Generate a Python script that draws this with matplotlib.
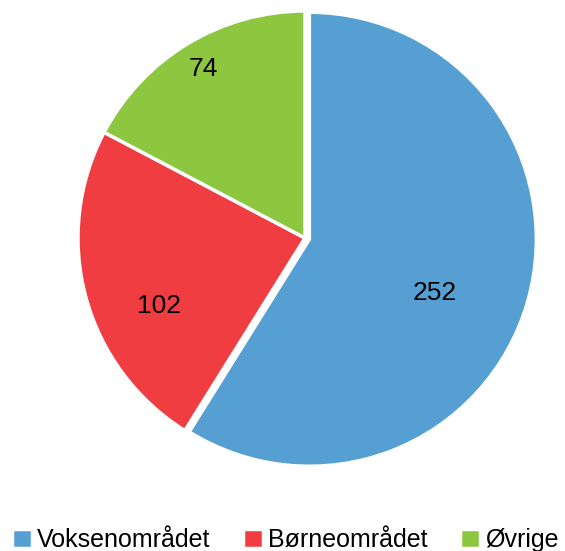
import numpy as np
import matplotlib.pyplot as plt

plt.rcParams["font.family"] = ["Liberation Sans", "DejaVu Sans"]

# Data
kategorier = ["Voksenområdet", "Børneområdet", "Øvrige"]
antal = [252, 102, 74]
farver = ["#569FD3", "#EF3D42", "#8DC63F"]
label_afstand = [0.62, 0.71, 0.87]
label_drej = [-7, 10, 0]  # grader

fig = plt.figure(figsize=(5.65, 5.51), dpi=100)
ax = fig.add_axes([78 / 565, (551 - 465) / 551, 454 / 565, 454 / 551])

wedges, texts, autotexts = ax.pie(
    antal,
    colors=farver,
    startangle=90,
    counterclock=False,
    explode=[0.02, 0, 0],
    autopct=lambda p: f"{p * sum(antal) / 100:.0f}",
    pctdistance=0.7,
    wedgeprops=dict(edgecolor="white", linewidth=2.5),
    textprops=dict(fontsize=19, color="black"),
)

# flyt etiketterne lidt som i originalen
for w, t, d, v in zip(wedges, autotexts, label_afstand, label_drej):
    w.set_clip_on(False)
    x, y = t.get_position()
    a = np.arctan2(y, x) + np.radians(v)
    t.set_position((d * np.cos(a), d * np.sin(a)))

ax.set_xlim(-1, 1)
ax.set_ylim(-1, 1)
ax.axis("off")

fig.legend(
    wedges, kategorier,
    loc="lower center", bbox_to_anchor=(0.505, -0.043),
    ncol=3, frameon=False, fontsize=18,
    handlelength=0.8, handleheight=0.8,
    handletextpad=0.2, columnspacing=1.3,
)

fig.savefig("out.png", dpi=100)
